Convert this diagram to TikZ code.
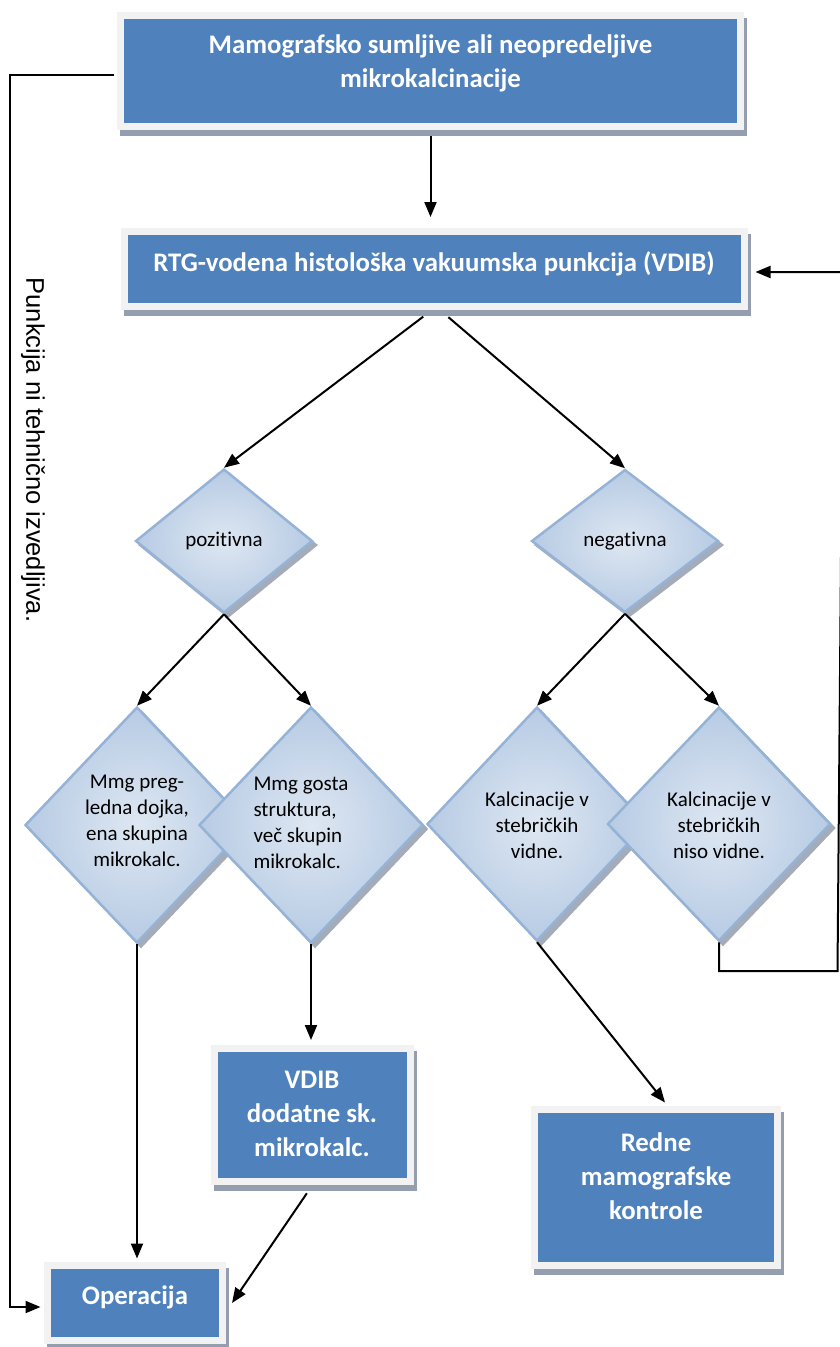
\documentclass[tikz,border=0pt]{standalone}
\usepackage{fontspec}
\setmainfont{Carlito}[Ligatures=NoCommon]
\newfontfamily\arialf{Liberation Sans}
\usetikzlibrary{shapes.geometric,arrows.meta}
\definecolor{boxblue}{HTML}{4F81BD}
\definecolor{frame}{HTML}{F2F2F2}
\definecolor{bshadow}{HTML}{959EAF}
\definecolor{dborder}{HTML}{95B3D7}
\definecolor{dlight}{HTML}{DEE7F2}
\definecolor{ddark}{HTML}{B7CBE4}
\definecolor{dshadow}{HTML}{A4ACB9}
\begin{document}
\begin{tikzpicture}[x=1pt,y=-1pt,
  bluebox/.style={rectangle, draw=frame, line width=7pt, fill=boxblue, inner sep=0pt,
    preaction={draw=bshadow, fill=bshadow, line width=7pt, transform canvas={xshift=3pt,yshift=-6pt}}},
  dia/.style={diamond, draw=dborder, line width=2.5pt, inner color=dlight, outer color=ddark, inner sep=0pt,
    preaction={draw=dshadow, fill=dshadow, line width=2.5pt, transform canvas={xshift=4pt,yshift=-4pt}}},
  btext/.style={text=white, font=\fontsize{26.8}{33.8}\selectfont\bfseries, align=center, inner sep=0pt},
  dtext/.style={font=\fontsize{21}{26}\selectfont, align=center, inner sep=0pt},
  arr/.style={line width=2pt, -{Triangle[length=15pt,width=12pt]}}
]
\useasboundingbox (0,0) rectangle (839,1347);

% boxes
\node[bluebox, minimum width=620pt, minimum height=111pt] (box1) at (430.5,71) {};
\node[btext] (t1) at (430.5,63.5) {Mamografsko sumljive ali neopredeljive\\mikrokalcinacije};
\node[bluebox, minimum width=620pt, minimum height=75pt] (box2) at (434.5,269) {};
\node[btext] (t2) at (434,264) {RTG-vodena histološka vakuumska punkcija (VDIB)};
\node[bluebox, minimum width=196pt, minimum height=133pt] (vdib) at (312.5,1115) {};
\node[btext] (t3) at (312,1114) {VDIB\\dodatne sk.\\mikrokalc.};
\node[bluebox, minimum width=243pt, minimum height=156pt] (redne) at (656,1187.5) {};
\node[btext] (t4) at (656,1176) {Redne\\mamografske\\kontrole};
\node[bluebox, minimum width=175pt, minimum height=75pt] (op) at (135,1303) {};
\node[btext] (t5) at (135,1297) {Operacija};

% diamonds
\node[dia, minimum width=177pt, minimum height=144pt] (poz) at (224,541) {};
\node[dia, minimum width=187pt, minimum height=143pt] (neg) at (625,541) {};
\node[dia, minimum width=224pt, minimum height=236pt] (A) at (137,825) {};
\node[dia, minimum width=224pt, minimum height=236pt] (B) at (311,825) {};
\node[dia, minimum width=220pt, minimum height=234pt] (C) at (537,824) {};
\node[dia, minimum width=223pt, minimum height=234pt] (D) at (719,824) {};

\node[dtext] (tp) at (224,541) {pozitivna};
\node[dtext] (tn) at (625,541) {negativna};
\node[dtext] (tA) at (137,821) {Mmg preg-\\ledna dojka,\\ena skupina\\mikrokalc.};
\node[dtext, align=left] (tB) at (301,823) {Mmg gosta\\struktura,\\več skupin\\mikrokalc.};
\node[dtext] (tC) at (537,825) {Kalcinacije v\\stebričkih\\vidne.};
\node[dtext] (tD) at (719,825) {Kalcinacije v\\stebričkih\\niso vidne.};

% rotated label
\node[font=\arialf\fontsize{25.5}{30}\selectfont, rotate=-90, inner sep=0pt] (rl) at (33,450) {Punkcija ni tehnično izvedljiva.};

% connectors
\draw[arr, shorten <=6pt, shorten >=11pt] (box1.south) -- (box1.south |- box2.north);
\draw[arr, shorten <=11pt] ([xshift=-2.5pt]box2.south) -- (poz.north);
\draw[arr, shorten <=11pt] ([xshift=5.5pt]box2.south) -- (neg.north);
\draw[arr] (poz.south) -- (A.north);
\draw[arr] (poz.south) -- (B.north);
\draw[arr] (neg.south) -- (C.north);
\draw[arr] (neg.south) -- (D.north);
\draw[arr, shorten >=3.5pt] (A.south) -- (A.south |- op.north);
\draw[arr, shorten >=5pt] (B.south) -- (B.south |- vdib.north);
\draw[arr, shorten <=10pt] (vdib.south) -- ([xshift=6pt]op.east);
\draw[arr] (C.south) -- ([xshift=9pt,yshift=3.5pt]redne.north);

\coordinate (lc) at (10,75);
\draw[arr] ([xshift=-3.5pt,yshift=-4pt]box1.west) -- (lc) |- ([xshift=-3.5pt,yshift=-4pt]op.west);

\coordinate (rb) at (837.5,971);
\coordinate (rtop) at (843.4,272);
\draw[arr] (D.south) |- (rb) -- (rtop) -- ([xshift=7.5pt]box2.east |- rtop);
\end{tikzpicture}
\end{document}
